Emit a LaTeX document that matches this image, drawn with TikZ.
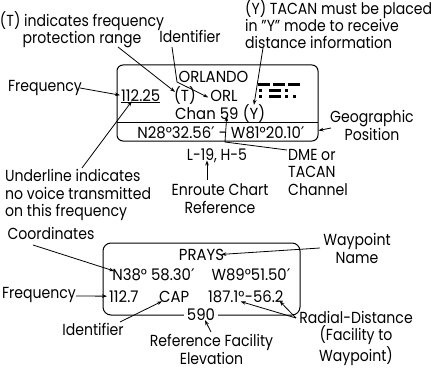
\documentclass[tikz,border=0pt]{standalone}
\usepackage{fontspec}
\setmainfont{Poppins}[FakeStretch=0.88]
\newfontfamily\boxfont{Poppins}[FakeStretch=0.93]
\newfontfamily\dvfont{DejaVu Sans}
\newcommand{\prm}{{\dvfont\char"2032}}
\usetikzlibrary{arrows.meta}
\begin{document}
\begin{tikzpicture}[x=1pt,y=-1pt,
  every node/.style={font=\fontsize{16}{17.5}\selectfont, inner sep=0pt, text=black},
  intext/.style={font=\fontsize{16}{17.5}\boxfont},
  lead/.style={draw=black, line width=0.8pt},
  leadarrow/.style={lead, -{Stealth[length=5pt,width=3.6pt]}},
  boxline/.style={draw=black, line width=1pt},
  morse/.style={fill=black, draw=none}]
\useasboundingbox (0,0) rectangle (442,369);
\fill[white] (0,0) rectangle (442,369);

% ---------- top box ----------
\draw[boxline, rounded corners=6pt] (117,65) rectangle (318,141);
\draw[boxline] (117,122) -- (318,122);

\node[intext, anchor=base] (orlando) at (213.5,82) {ORLANDO};
\node[intext, anchor=base west] (f112) at (121,101) {\underline{112.25}};
\node[intext, anchor=base west] (tT) at (174,101) {(T)};
\node[intext, anchor=base] (orl) at (224,101) {ORL};
\node[intext, anchor=base west] (chan) at (175,119) {Chan 59};
\node[intext, anchor=base west] (tY) at ([xshift=4pt]chan.base east) {(Y)};
\node[intext, anchor=base] (pos) at (221,138) {N28°32.56\prm{} - W81°20.10\prm};

% morse ORL
\fill[morse] (258,83.5) rectangle (270,86.5);
\fill[morse] (273,83.5) rectangle (285,86.5);
\fill[morse] (288,83.5) rectangle (300,86.5);
\fill[morse] (258.5,89.5) rectangle (261.5,92.5);
\fill[morse] (269,89.5) rectangle (281,92.5);
\fill[morse] (284.5,89.5) rectangle (287.5,92.5);
\fill[morse] (258.5,95.5) rectangle (261.5,98.5);
\fill[morse] (269,95.5) rectangle (281,98.5);
\fill[morse] (284.5,95.5) rectangle (287.5,98.5);
\fill[morse] (292.5,95.5) rectangle (295.5,98.5);

% ---------- top labels ----------
\node[anchor=base, align=center] (tlab) at (82,44) {(T) indicates frequency\\protection range};
\node[anchor=base] (idlab) at (190,43) {Identifier};
\node[anchor=base west, align=left] (ylab) at (245,49) {(Y) TACAN must be placed\\in "Y" mode to receive\\distance information};
\node[anchor=base] (freqlab) at (45,92) {Frequency};
\node[anchor=base, align=center] (geolab) at (372,140) {Geographic\\Position};
\node[anchor=base west, align=left] (ullab) at (5,216.5) {Underline indicates\\no voice transmitted\\on this frequency};
\node[anchor=base] (lref) at (217,160) {L-19, H-5};
\node[anchor=base, align=center] (enlab) at (220,213) {Enroute Chart\\Reference};
\node[anchor=base west, align=left] (dmelab) at (288,195) {DME or\\TACAN\\Channel};

% ---------- top leaders ----------
\coordinate (tA) at (118,47);
\draw[leadarrow] (tA) -- ([xshift=1pt,yshift=-6pt]tT.north west);
\coordinate (iA) at (172,47);
\coordinate (iB) at (177,82);
\draw[leadarrow] (iA) -- (iB) -- ([xshift=-2pt,yshift=-2pt]orl.west);
\coordinate (yA) at (263,48);
\draw[leadarrow] (yA) -- ([yshift=-1pt]tY.north);
\coordinate (fA) at (80,88);
\draw[leadarrow] (fA) -- ([xshift=-1pt,yshift=1pt]f112.west);
\coordinate (uA) at (82,168);
\draw[leadarrow] (uA) -- ([xshift=-9pt,yshift=2pt]f112.south);
\coordinate (dA) at (287,150);
\coordinate (dB) at (225,142);
\draw[leadarrow] (dA) -- (dB) -- ([xshift=-12pt,yshift=3pt]chan.south east);
\coordinate (gA) at (331,128);
\draw[leadarrow] (gA) -- (318.5,130.5);
\coordinate (eA) at (207,180);
\draw[leadarrow] (eA) -- ([yshift=2pt]lref.south -| eA);

% ---------- bottom box ----------
\draw[boxline, rounded corners=8pt] (103,243) rectangle (300,315);
\node[intext, anchor=base, fill=white, inner xsep=3pt, inner ysep=1pt] (elev) at (201,320) {590};
\node[intext, anchor=base] (prays) at (201.5,260) {PRAYS};
\node[intext, anchor=base] (n38) at (153.5,280) {N38° 58.30\prm};
\node[intext, anchor=base] (w89) at (251,280) {W89°51.50\prm};
\node[intext, anchor=base west] (f1127) at (109,302) {112.7};
\node[intext, anchor=base west] (cap) at (159,302) {CAP};
\node[intext, anchor=base west] (r187) at (208,302) {187.1°};
\node[intext, anchor=base west] (d562) at (r187.base east) {-56.2};

% ---------- bottom labels ----------
\node[anchor=base] (coordlab) at (51,239) {Coordinates};
\node[anchor=base] (freq2) at (39,298) {Frequency};
\node[anchor=base] (id2) at (93,335) {Identifier};
\node[anchor=base, align=center] (reflab) at (211.5,364) {Reference Facility\\Elevation};
\node[anchor=base, align=center] (wplab) at (357,263) {Waypoint\\Name};
\node[anchor=base, align=center] (radlab) at (356,361) {Radial-Distance\\(Facility to\\Waypoint)};

% ---------- bottom leaders ----------
\coordinate (cA) at (33,245);
\draw[leadarrow] (cA) -- ([xshift=2pt,yshift=-3pt]n38.north west);
\coordinate (f2A) at (76,296);
\draw[leadarrow] (f2A) -- ([xshift=-2pt]f1127.west);
\coordinate (i2A) at (120,322);
\draw[leadarrow] (i2A) -- ([xshift=3pt,yshift=1pt]cap.south west);
\coordinate (wA) at (320,248);
\draw[leadarrow] (wA) -- ([xshift=-3pt]prays.east);
\coordinate (rA) at (296,318);
\draw[leadarrow] (rA) -- ([xshift=-4pt,yshift=1pt]r187.south east);
\coordinate (rB) at (296,318);
\draw[leadarrow] (rB) -- ([xshift=-4pt,yshift=1pt]d562.south east);
\coordinate (refA) at (211,332);
\draw[leadarrow] (refA) -- ([xshift=4pt,yshift=1pt]elev.south);
\end{tikzpicture}
\end{document}
